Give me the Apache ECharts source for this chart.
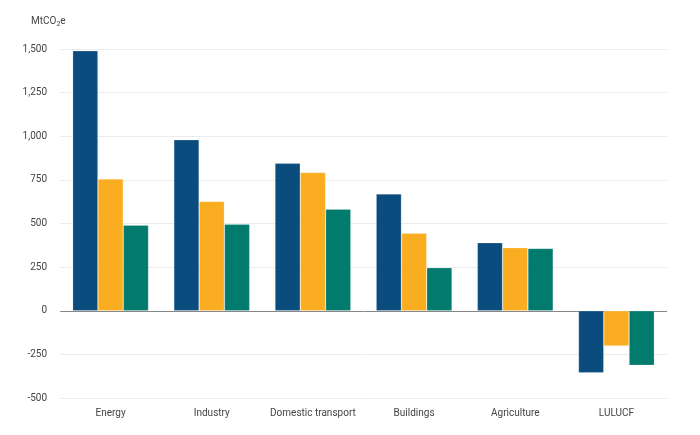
<!DOCTYPE html>
<html>
<head>
<meta charset="utf-8">
<script src="https://cdn.jsdelivr.net/npm/echarts@6/dist/echarts.min.js"></script>
<style>html,body{margin:0;padding:0;background:#fff}#c{width:700px;height:435px}</style>
</head>
<body>
<div id="c"></div>
<script>
const categories = ['Energy', 'Industry', 'Domestic transport', 'Buildings', 'Agriculture', 'LULUCF'];
const seriesA = [1490, 980, 845, 670, 390, -355];
const seriesB = [755, 627, 793, 445, 362, -202];
const seriesC = [490, 496, 582, 247, 357, -313];
const yTicks = { min: -500, max: 1500, interval: 250 };

const chart = echarts.init(document.getElementById('c'));
const font = 'Roboto, "Noto Sans", sans-serif';
const gridColors = [];
for (let v = yTicks.min; v <= yTicks.max; v += yTicks.interval) gridColors.push(v === 0 ? '#888888' : '#ebebeb');
const border = { borderColor: 'rgba(255,255,255,0.35)', borderWidth: 0.6 };
chart.setOption({
  animation: false,
  title: {
    text: '{a|MtCO}{s|2}{a|e}',
    left: 26, top: 10,
    textStyle: { fontWeight: 'normal', rich: {
      a: { fontFamily: font, fontSize: 10, color: '#444', fontWeight: 'normal' },
      s: { fontFamily: font, fontSize: 7, color: '#444', fontWeight: 'normal', verticalAlign: 'bottom', padding: [6, 0, 0, 0] }
    } }
  },
  grid: { left: 60, right: 33, top: 49, bottom: 37, containLabel: false },
  xAxis: {
    type: 'category', data: categories,
    axisLine: { show: false, onZero: false },
    axisTick: { show: false },
    axisLabel: { interval: 0, color: '#444', fontFamily: font, fontSize: 10, margin: 10 }
  },
  yAxis: {
    type: 'value', min: yTicks.min, max: yTicks.max, interval: yTicks.interval,
    axisLine: { show: false }, axisTick: { show: false },
    axisLabel: { color: '#444', fontFamily: font, fontSize: 10, margin: 13,
      formatter: v => v.toLocaleString('en-US') },
    splitLine: { lineStyle: { color: gridColors, width: 1 } }
  },
  series: [
    { name: 'Series A', type: 'bar', data: seriesA, barGap: '0%', barCategoryGap: '25%', itemStyle: Object.assign({ color: '#0a4c7d' }, border) },
    { name: 'Series B', type: 'bar', data: seriesB, barGap: '0%', barCategoryGap: '25%', itemStyle: Object.assign({ color: '#fbad21' }, border) },
    { name: 'Series C', type: 'bar', data: seriesC, barGap: '0%', barCategoryGap: '25%', itemStyle: Object.assign({ color: '#007b6e' }, border) }
  ]
});
</script>
</body>
</html>
